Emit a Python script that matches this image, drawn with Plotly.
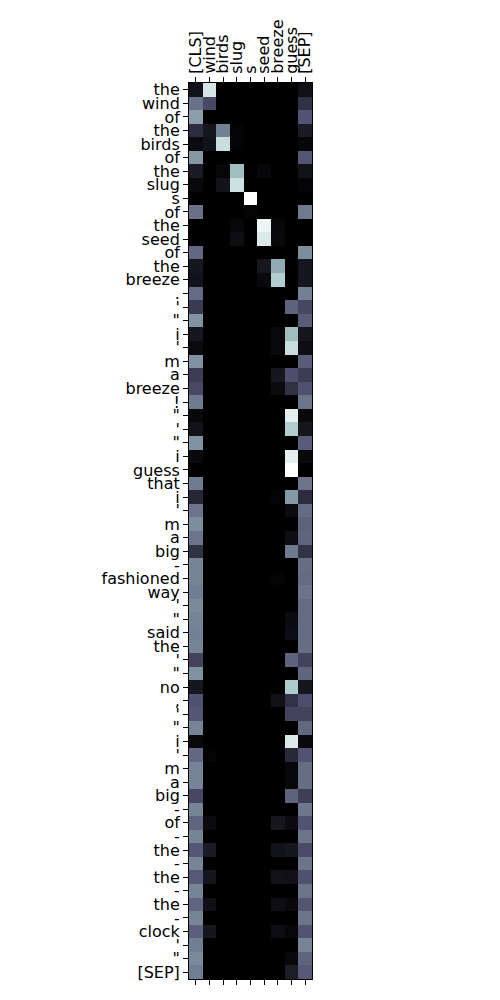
import plotly.graph_objects as go

columns = ["[CLS]", "wind", "birds", "slug", "s", "seed", "breeze", "guess", "[SEP]"]

tokens = ["the", "wind", "of", "the", "birds", "of", "the", "slug", "s", "of",
          "the", "seed", "of", "the", "breeze", ".", "'", "\"", "i", "'",
          "m", "a", "breeze", "!", "\"", "'", "\"", "i", "guess", "that",
          "i", "'", "m", "a", "big", "-", "fashioned", "way", "'", "\"",
          "said", "the", "'", "\"", "no", ",", "'", "\"", "i", "'",
          "m", "a", "big", "-", "of", "-", "the", "-", "the", "-",
          "the", "-", "clock", "'", "\"", "[SEP]"]

# attention weights: one row per token, columns as in `columns`
attention = [
    [0.08, 0.88, 0, 0, 0, 0, 0, 0, 0.07],
    [0.47, 0.33, 0, 0, 0, 0, 0, 0, 0.22],
    [0.62, 0, 0, 0, 0, 0, 0, 0, 0.37],
    [0.20, 0.10, 0.52, 0.02, 0, 0, 0, 0, 0.12],
    [0.05, 0.08, 0.85, 0.02, 0, 0, 0, 0, 0.03],
    [0.60, 0, 0, 0, 0, 0, 0, 0, 0.38],
    [0.12, 0, 0.03, 0.72, 0, 0.03, 0, 0, 0.08],
    [0.04, 0, 0.08, 0.86, 0, 0, 0, 0, 0.02],
    [0, 0, 0, 0, 1.0, 0, 0, 0, 0],
    [0.47, 0, 0, 0, 0.02, 0, 0, 0, 0.50],
    [0, 0, 0, 0.03, 0, 0.95, 0.03, 0, 0],
    [0, 0, 0, 0.06, 0, 0.90, 0.04, 0, 0],
    [0.44, 0, 0, 0, 0, 0, 0, 0, 0.56],
    [0.10, 0, 0, 0, 0, 0.10, 0.65, 0, 0.10],
    [0.08, 0, 0, 0, 0, 0.04, 0.78, 0, 0.10],
    [0.45, 0, 0, 0, 0, 0, 0, 0, 0.52],
    [0.26, 0, 0, 0, 0, 0, 0, 0.42, 0.32],
    [0.58, 0, 0, 0, 0, 0, 0, 0, 0.40],
    [0.10, 0, 0, 0, 0, 0, 0.04, 0.72, 0.10],
    [0.05, 0, 0, 0, 0, 0, 0.04, 0.85, 0.06],
    [0.58, 0, 0, 0, 0, 0, 0, 0, 0.40],
    [0.27, 0, 0, 0, 0, 0, 0.10, 0.35, 0.27],
    [0.33, 0, 0, 0, 0, 0, 0.05, 0.22, 0.36],
    [0.50, 0, 0, 0, 0, 0, 0, 0, 0.48],
    [0.04, 0, 0, 0, 0, 0, 0, 0.93, 0.04],
    [0.08, 0, 0, 0, 0, 0, 0, 0.78, 0.10],
    [0.58, 0, 0, 0, 0, 0, 0, 0, 0.40],
    [0.04, 0, 0, 0, 0, 0, 0, 0.93, 0.04],
    [0, 0, 0, 0, 0, 0, 0, 1.0, 0],
    [0.50, 0, 0, 0, 0, 0, 0, 0, 0.48],
    [0.17, 0, 0, 0, 0, 0, 0.02, 0.60, 0.20],
    [0.48, 0, 0, 0, 0, 0, 0, 0.05, 0.45],
    [0.56, 0, 0, 0, 0, 0, 0, 0, 0.42],
    [0.48, 0, 0, 0, 0, 0, 0, 0.06, 0.43],
    [0.22, 0, 0, 0, 0, 0, 0, 0.50, 0.23],
    [0.53, 0, 0, 0, 0, 0, 0, 0, 0.46],
    [0.53, 0, 0, 0, 0, 0, 0.02, 0, 0.45],
    [0.51, 0, 0, 0, 0, 0, 0, 0, 0.48],
    [0.55, 0, 0, 0, 0, 0, 0, 0, 0.45],
    [0.53, 0, 0, 0, 0, 0, 0, 0.05, 0.45],
    [0.52, 0, 0, 0, 0, 0, 0, 0.06, 0.45],
    [0.53, 0, 0, 0, 0, 0, 0, 0, 0.46],
    [0.30, 0, 0, 0, 0, 0, 0, 0.42, 0.30],
    [0.58, 0, 0, 0, 0, 0, 0, 0, 0.43],
    [0.10, 0, 0, 0, 0, 0, 0, 0.77, 0.10],
    [0.36, 0, 0, 0, 0, 0, 0.07, 0.23, 0.35],
    [0.38, 0, 0, 0, 0, 0, 0, 0.30, 0.30],
    [0.53, 0, 0, 0, 0, 0, 0, 0, 0.44],
    [0.04, 0, 0, 0, 0, 0, 0, 0.90, 0.04],
    [0.44, 0.02, 0, 0, 0, 0, 0, 0.18, 0.37],
    [0.53, 0, 0, 0, 0, 0, 0, 0.03, 0.46],
    [0.53, 0, 0, 0, 0, 0, 0, 0.03, 0.46],
    [0.32, 0, 0, 0, 0, 0, 0, 0.42, 0.28],
    [0.53, 0, 0, 0, 0, 0, 0, 0, 0.49],
    [0.43, 0.05, 0, 0, 0, 0, 0.10, 0.05, 0.37],
    [0.53, 0, 0, 0, 0, 0, 0, 0, 0.48],
    [0.38, 0.12, 0, 0, 0, 0, 0.08, 0.10, 0.34],
    [0.53, 0, 0, 0, 0, 0, 0, 0, 0.48],
    [0.39, 0.10, 0, 0, 0, 0, 0.08, 0.07, 0.36],
    [0.53, 0, 0, 0, 0, 0, 0, 0, 0.48],
    [0.43, 0.07, 0, 0, 0, 0, 0.06, 0.04, 0.38],
    [0.53, 0, 0, 0, 0, 0, 0, 0, 0.48],
    [0.41, 0.10, 0, 0, 0, 0, 0.06, 0.03, 0.37],
    [0.51, 0, 0, 0, 0, 0, 0, 0, 0.53],
    [0.55, 0, 0, 0, 0, 0, 0, 0.04, 0.43],
    [0.51, 0, 0, 0, 0, 0, 0, 0.13, 0.39],
]

# matplotlib "bone" colormap
bone = [
    [0.0, "rgb(0,0,0)"],
    [0.365079, "rgb(81,81,113)"],
    [0.746032, "rgb(166,198,198)"],
    [1.0, "rgb(255,255,255)"],
]

fig = go.Figure(go.Heatmap(
    z=attention,
    x=list(range(len(columns))),
    y=list(range(len(tokens))),
    colorscale=bone,
    zmin=0, zmax=1,
    showscale=False,
    hoverinfo="skip",
))

font = dict(family="DejaVu Sans", size=16, color="black")

fig.update_layout(
    width=500, height=1000,
    margin=dict(l=189, r=188, t=83, b=21, pad=0),
    paper_bgcolor="white", plot_bgcolor="white",
    font=font,
    xaxis=dict(
        side="top",
        tickmode="array",
        tickvals=list(range(len(columns))),
        ticktext=columns,
        tickangle=-90,
        ticks="outside", ticklen=5, tickwidth=1, tickcolor="black",
        showline=True, linecolor="black", linewidth=1,
        mirror="allticks",
        showgrid=False, zeroline=False,
        range=[-0.5, len(columns) - 0.5],
        tickfont=font,
    ),
    yaxis=dict(
        tickmode="array",
        tickvals=list(range(len(tokens))),
        ticktext=tokens,
        ticks="outside", ticklen=5, tickwidth=1, tickcolor="black",
        showline=True, linecolor="black", linewidth=1,
        mirror=True,
        showgrid=False, zeroline=False,
        range=[len(tokens) - 0.5, -0.5],
        tickfont=font,
    ),
)

fig.write_html("out.html")
